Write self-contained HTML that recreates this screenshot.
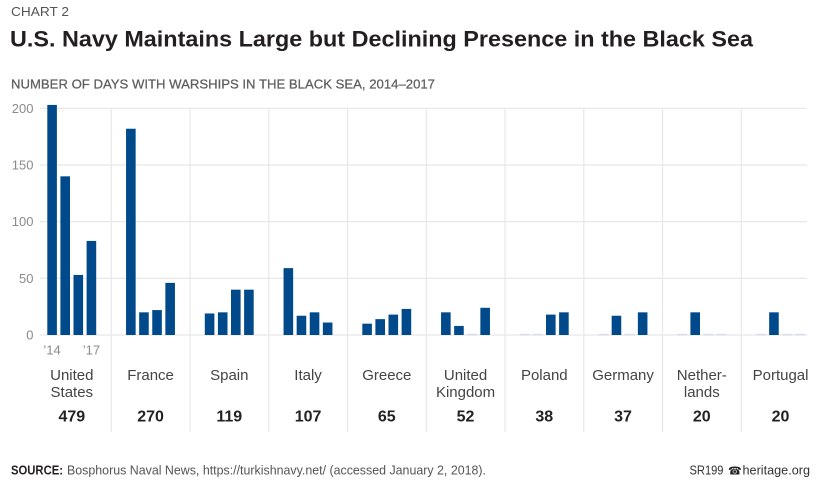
<!DOCTYPE html>
<html>
<head>
<meta charset="utf-8">
<style>
  html,body{margin:0;padding:0;background:#fff;}
  body{width:825px;height:481px;overflow:hidden;}
  svg{display:block;}
  .ax{font-family:"Liberation Sans",sans-serif;font-size:13px;fill:#8a8a8a;}
  .yr{font-family:"Liberation Sans",sans-serif;font-size:13px;fill:#8a8a8a;}
  .cl{font-family:"Liberation Sans",sans-serif;font-size:15px;fill:#444;text-anchor:middle;}
  .tot{font-family:"Liberation Sans",sans-serif;font-size:16px;font-weight:bold;fill:#222;text-anchor:middle;}
</style>
</head>
<body>
<svg width="825" height="481" viewBox="0 0 825 481" xmlns="http://www.w3.org/2000/svg">
  <rect width="825" height="481" fill="#fff"/>

  <!-- header -->
  <text x="11" y="16" font-family="Liberation Sans, sans-serif" font-size="13" fill="#555" textLength="58" lengthAdjust="spacingAndGlyphs">CHART 2</text>
  <text x="10" y="46.5" font-family="Liberation Sans, sans-serif" font-size="22.5" font-weight="bold" fill="#231f20" textLength="743" lengthAdjust="spacingAndGlyphs">U.S. Navy Maintains Large but Declining Presence in the Black Sea</text>
  <text x="11" y="88.3" font-family="Liberation Sans, sans-serif" font-size="13" fill="#5e5e5e" stroke="#5e5e5e" stroke-width="0.25" textLength="424" lengthAdjust="spacingAndGlyphs">NUMBER OF DAYS WITH WARSHIPS IN THE BLACK SEA, 2014–2017</text>

  <!-- horizontal gridlines -->
  <g stroke="#e6e6e6" stroke-width="1.2">
    <line x1="40" y1="108.3" x2="807" y2="108.3"/>
    <line x1="40" y1="165" x2="807" y2="165"/>
    <line x1="40" y1="221.7" x2="807" y2="221.7"/>
    <line x1="40" y1="278.3" x2="807" y2="278.3"/>
    <line x1="40" y1="335" x2="807" y2="335"/>
  </g>
  <!-- vertical dividers -->
  <g stroke="#e8e8e8" stroke-width="1.2">
    <line x1="111.3" y1="108" x2="111.3" y2="432"/>
    <line x1="190.05" y1="108" x2="190.05" y2="432"/>
    <line x1="268.8" y1="108" x2="268.8" y2="432"/>
    <line x1="347.55" y1="108" x2="347.55" y2="432"/>
    <line x1="426.3" y1="108" x2="426.3" y2="432"/>
    <line x1="505.05" y1="108" x2="505.05" y2="432"/>
    <line x1="583.8" y1="108" x2="583.8" y2="432"/>
    <line x1="662.55" y1="108" x2="662.55" y2="432"/>
    <line x1="741.3" y1="108" x2="741.3" y2="432"/>
  </g>

  <!-- y axis labels -->
  <g class="ax" text-anchor="end">
    <text x="33.5" y="112.8">200</text>
    <text x="33.5" y="169.5">150</text>
    <text x="33.5" y="226.2">100</text>
    <text x="33.5" y="282.8">50</text>
    <text x="33.5" y="339.5">0</text>
  </g>

  <!-- zero-value markers -->
  <g fill="#d8ddeb">
    <rect x="467.25" y="333.8" width="9.6" height="1.6"/>
    <rect x="519.8" y="333.8" width="9.6" height="1.6"/>
    <rect x="532.9" y="333.8" width="9.6" height="1.6"/>
    <rect x="598.55" y="333.8" width="9.6" height="1.6"/>
    <rect x="624.75" y="333.8" width="9.6" height="1.6"/>
    <rect x="677.3" y="333.8" width="9.6" height="1.6"/>
    <rect x="703.5" y="333.8" width="9.6" height="1.6"/>
    <rect x="716.6" y="333.8" width="9.6" height="1.6"/>
    <rect x="756.05" y="333.8" width="9.6" height="1.6"/>
    <rect x="782.25" y="333.8" width="9.6" height="1.6"/>
    <rect x="795.35" y="333.8" width="9.6" height="1.6"/>
  </g>

  <!-- bars -->
  <g fill="#004a8c">
    <rect x="47.3" y="104.93" width="9.6" height="230.07"/>
    <rect x="60.4" y="176.33" width="9.6" height="158.67"/>
    <rect x="73.5" y="274.93" width="9.6" height="60.07"/>
    <rect x="86.6" y="240.93" width="9.6" height="94.07"/>
    <rect x="126.05" y="128.73" width="9.6" height="206.27"/>
    <rect x="139.15" y="312.33" width="9.6" height="22.67"/>
    <rect x="152.25" y="310.07" width="9.6" height="24.93"/>
    <rect x="165.35" y="282.87" width="9.6" height="52.13"/>
    <rect x="204.8" y="313.47" width="9.6" height="21.53"/>
    <rect x="217.9" y="312.33" width="9.6" height="22.67"/>
    <rect x="231.0" y="289.67" width="9.6" height="45.33"/>
    <rect x="244.1" y="289.67" width="9.6" height="45.33"/>
    <rect x="283.55" y="268.13" width="9.6" height="66.87"/>
    <rect x="296.65" y="315.73" width="9.6" height="19.27"/>
    <rect x="309.75" y="312.33" width="9.6" height="22.67"/>
    <rect x="322.85" y="322.53" width="9.6" height="12.47"/>
    <rect x="362.3" y="323.67" width="9.6" height="11.33"/>
    <rect x="375.4" y="319.13" width="9.6" height="15.87"/>
    <rect x="388.5" y="314.6" width="9.6" height="20.4"/>
    <rect x="401.6" y="308.93" width="9.6" height="26.07"/>
    <rect x="441.05" y="312.33" width="9.6" height="22.67"/>
    <rect x="454.15" y="325.93" width="9.6" height="9.07"/>
    <rect x="480.35" y="307.8" width="9.6" height="27.2"/>
    <rect x="546.0" y="314.6" width="9.6" height="20.4"/>
    <rect x="559.1" y="312.33" width="9.6" height="22.67"/>
    <rect x="611.65" y="315.73" width="9.6" height="19.27"/>
    <rect x="637.85" y="312.33" width="9.6" height="22.67"/>
    <rect x="690.4" y="312.33" width="9.6" height="22.67"/>
    <rect x="769.15" y="312.33" width="9.6" height="22.67"/>
  </g>

  <!-- year labels -->
  <text class="yr" x="52.1" y="354.5" text-anchor="middle">’14</text>
  <text class="yr" x="91.4" y="354.5" text-anchor="middle">’17</text>

  <!-- country labels -->
  <text class="cl" x="71.8" y="380">United</text>
  <text class="cl" x="71.8" y="397">States</text>
  <text class="cl" x="150.55" y="380">France</text>
  <text class="cl" x="229.3" y="380">Spain</text>
  <text class="cl" x="308.05" y="380">Italy</text>
  <text class="cl" x="386.8" y="380">Greece</text>
  <text class="cl" x="465.55" y="380">United</text>
  <text class="cl" x="465.55" y="397">Kingdom</text>
  <text class="cl" x="544.3" y="380">Poland</text>
  <text class="cl" x="623.05" y="380">Germany</text>
  <text class="cl" x="701.8" y="380">Nether-</text>
  <text class="cl" x="701.8" y="397">lands</text>
  <text class="cl" x="780.55" y="380">Portugal</text>

  <!-- totals -->
  <text class="tot" x="71.8" y="421.5">479</text>
  <text class="tot" x="150.55" y="421.5">270</text>
  <text class="tot" x="229.3" y="421.5">119</text>
  <text class="tot" x="308.05" y="421.5">107</text>
  <text class="tot" x="386.8" y="421.5">65</text>
  <text class="tot" x="465.55" y="421.5">52</text>
  <text class="tot" x="544.3" y="421.5">38</text>
  <text class="tot" x="623.05" y="421.5">37</text>
  <text class="tot" x="701.8" y="421.5">20</text>
  <text class="tot" x="780.55" y="421.5">20</text>

  <!-- footer -->
  <text x="11" y="474.5" font-family="Liberation Sans, sans-serif" font-size="12.5" font-weight="bold" fill="#231f20" textLength="52" lengthAdjust="spacingAndGlyphs">SOURCE:</text>
  <text x="67" y="474.5" font-family="Liberation Sans, sans-serif" font-size="12.5" fill="#555" textLength="419" lengthAdjust="spacingAndGlyphs">Bosphorus Naval News, https://turkishnavy.net/ (accessed January 2, 2018).</text>
  <text x="689.5" y="474.5" font-family="Liberation Sans, sans-serif" font-size="12.5" fill="#333" textLength="34" lengthAdjust="spacingAndGlyphs">SR199</text>
  <text x="728" y="474.5" font-family="DejaVu Sans, sans-serif" font-size="11" fill="#222">☎</text>
  <text x="742.5" y="474.5" font-family="Liberation Sans, sans-serif" font-size="12.5" fill="#333" textLength="67.5" lengthAdjust="spacingAndGlyphs">heritage.org</text>
</svg>
</body>
</html>
